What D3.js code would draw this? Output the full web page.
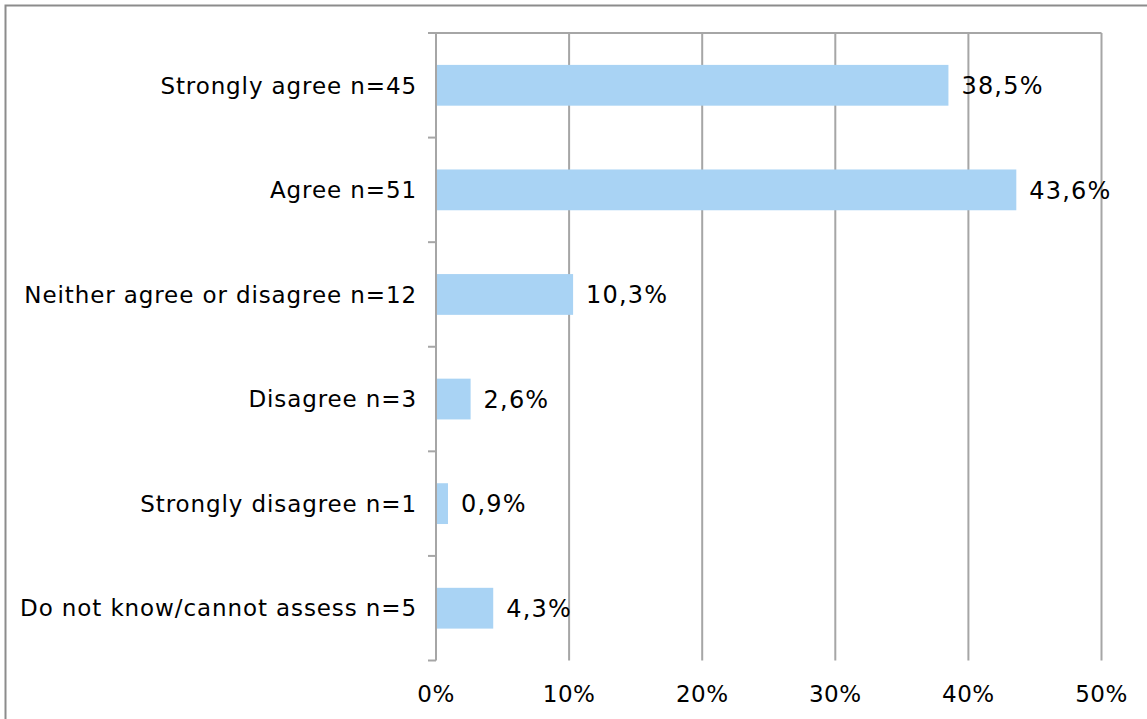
<!DOCTYPE html>
<html>
<head>
<meta charset="utf-8">
<script src="https://cdn.jsdelivr.net/npm/d3@7"></script>
<style>
  html, body { margin: 0; padding: 0; background: #fff; }
  svg { display: block; }
  text { font-family: "DejaVu Sans", Verdana, sans-serif; fill: #000; }
</style>
</head>
<body>
<svg id="chart" width="1147" height="719"></svg>
<script>
const categories = [
  "Strongly agree n=45",
  "Agree n=51",
  "Neither agree or disagree n=12",
  "Disagree n=3",
  "Strongly disagree n=1",
  "Do not know/cannot assess n=5"
];
const values = [38.5, 43.6, 10.3, 2.6, 0.9, 4.3];
const valueLabels = ["38,5%", "43,6%", "10,3%", "2,6%", "0,9%", "4,3%"];
const xTicks = [0, 10, 20, 30, 40, 50];
const xTickLabels = ["0%", "10%", "20%", "30%", "40%", "50%"];

(function () {
const svg = d3.select("#chart");
const pLeft = 436, pRight = 1101.5, pTop = 33, pBottom = 660.5;
const gridColor = "#a6a6a6";
const fontSize = 23;

// outer frame (left and top edges visible)
svg.append("path")
  .attr("d", "M5.5,719 L5.5,5.5 L1147,5.5")
  .attr("fill", "none").attr("stroke", "#8c8c8c").attr("stroke-width", 2);

const x = d3.scaleLinear().domain([0, 50]).range([pLeft, pRight]);
const y = d3.scaleBand().domain(categories).range([pTop, pBottom]).paddingInner(0.61).paddingOuter(0.305);
const band = d3.scaleBand().domain(categories).range([pTop, pBottom]);

// vertical gridlines
svg.append("g").selectAll("line").data(xTicks.slice(1)).join("line")
  .attr("x1", d => x(d)).attr("x2", d => x(d))
  .attr("y1", pTop).attr("y2", pBottom)
  .attr("stroke", gridColor).attr("stroke-width", 2);

// top line of plot
svg.append("line")
  .attr("x1", pLeft - 8).attr("x2", pRight).attr("y1", pTop).attr("y2", pTop)
  .attr("stroke", gridColor).attr("stroke-width", 2);

// bars
svg.append("g").selectAll("rect").data(values).join("rect")
  .attr("x", x(0))
  .attr("y", (d, i) => y(categories[i]))
  .attr("width", d => x(d) - x(0))
  .attr("height", y.bandwidth())
  .attr("fill", "#a9d3f4");

// category axis
svg.append("line")
  .attr("x1", pLeft).attr("x2", pLeft).attr("y1", pTop).attr("y2", pBottom)
  .attr("stroke", gridColor).attr("stroke-width", 2);
const boundaries = categories.map(c => band(c)).concat([pBottom]);
svg.append("g").selectAll("line").data(boundaries).join("line")
  .attr("x1", pLeft - 8).attr("x2", pLeft).attr("y1", d => d).attr("y2", d => d)
  .attr("stroke", gridColor).attr("stroke-width", 2);

// category labels
svg.append("g").selectAll("text").data(categories).join("text")
  .attr("x", 417)
  .attr("y", d => band(d) + band.bandwidth() / 2)
  .attr("dy", "0.36em")
  .attr("text-anchor", "end")
  .attr("font-size", fontSize)
  .attr("letter-spacing", "0.9px")
  .text(d => d);

// value labels
svg.append("g").selectAll("text").data(values).join("text")
  .attr("x", d => x(d) + 13)
  .attr("y", (d, i) => band(categories[i]) + band.bandwidth() / 2)
  .attr("dy", "0.36em")
  .attr("font-size", 24)
  .attr("letter-spacing", "1.2px")
  .text((d, i) => valueLabels[i]);

// x tick labels
svg.append("g").selectAll("text").data(xTicks).join("text")
  .attr("x", d => x(d))
  .attr("y", 702)
  .attr("text-anchor", "middle")
  .attr("font-size", fontSize)
  .attr("letter-spacing", "0.5px")
  .text((d, i) => xTickLabels[i]);
})();
</script>
</body>
</html>
